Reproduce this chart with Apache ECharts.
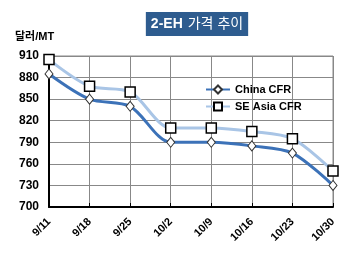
<!DOCTYPE html>
<html lang="ko">
<head>
    <meta charset="UTF-8">
    <title>2-EH 가격추이</title>
    <script src="https://cdn.jsdelivr.net/npm/echarts@6/dist/echarts.min.js"></script>
    <style>
        html, body { margin: 0; padding: 0; background: #fff; }
        #main { width: 350px; height: 258px; }
    </style>
</head>
<body>
<div id="main"></div>
<script>
    // data
    var dates = ['9/11', '9/18', '9/25', '10/2', '10/9', '10/16', '10/23', '10/30'];
    var chinaCfr = [885, 850, 840, 790, 790, 785, 775, 730];
    var seAsiaCfr = [905, 868, 860, 810, 810, 805, 795, 750];

    var font = 'Arial, "Liberation Sans", "Noto Sans CJK KR", sans-serif';
    var chart = echarts.init(document.getElementById('main'));

    var option = {
        animation: false,
        title: {
            text: '{b|2-EH} {r|가격 추이}',
            left: 192,
            textAlign: 'center',
            top: 12,
            backgroundColor: '#2e5c8f',
            padding: [3, 5],
            textStyle: {
                color: '#fff', fontFamily: font,
                rich: {
                    b: { color: '#fff', fontSize: 14, fontWeight: 'bold', fontFamily: font },
                    r: { color: '#fff', fontSize: 14, fontWeight: 'normal', fontFamily: font }
                }
            }
        },
        legend: {
            orient: 'vertical',
            left: 200,
            top: 79,
            itemGap: 6,
            itemWidth: 24,
            itemHeight: 10,
            textStyle: { color: '#000', fontSize: 11, fontWeight: 'bold', fontFamily: font },
            data: ['China CFR', 'SE Asia CFR']
        },
        grid: { left: 49, right: 17, top: 56, bottom: 51, show: true, borderColor: '#888', borderWidth: 1 },
        xAxis: {
            type: 'category',
            boundaryGap: false,
            data: dates,
            axisLine: { lineStyle: { color: '#000', width: 2 } },
            axisTick: { show: true, inside: true, length: 4, lineStyle: { color: '#000' } },
            axisLabel: { rotate: 45, color: '#000', fontSize: 11, fontWeight: 'bold', fontFamily: font, margin: 13 },
            splitLine: { show: true, lineStyle: { color: '#888', width: 1 } }
        },
        yAxis: {
            type: 'value',
            min: 700,
            max: 910,
            interval: 30,
            name: '달러/MT',
            nameLocation: 'end',
            nameGap: 14,
            nameTextStyle: { color: '#000', fontSize: 11, fontWeight: 'bold', fontFamily: font, align: 'left', padding: [0, 0, 0, -34] },
            axisLine: { show: true, lineStyle: { color: '#000', width: 2 } },
            axisTick: { show: false },
            axisLabel: { color: '#000', fontSize: 12, fontWeight: 'bold', fontFamily: font, margin: 10 },
            splitLine: { lineStyle: { color: '#888', width: 1 } }
        },
        series: [
            {
                name: 'SE Asia CFR',
                type: 'line',
                smooth: 0.3,
                data: seAsiaCfr,
                symbol: 'rect',
                symbolSize: 10,
                lineStyle: { color: '#a9c5e6', width: 3 },
                itemStyle: { color: '#fff', borderColor: '#000', borderWidth: 1.5 },
                z: 2
            },
            {
                name: 'China CFR',
                type: 'line',
                smooth: 0.3,
                data: chinaCfr,
                symbol: 'diamond',
                symbolSize: [8, 10],
                lineStyle: { color: '#3c72b8', width: 3 },
                itemStyle: { color: '#fff', borderColor: '#333', borderWidth: 1 },
                z: 3
            }
        ]
    };

    chart.setOption(option);
</script>
</body>
</html>
